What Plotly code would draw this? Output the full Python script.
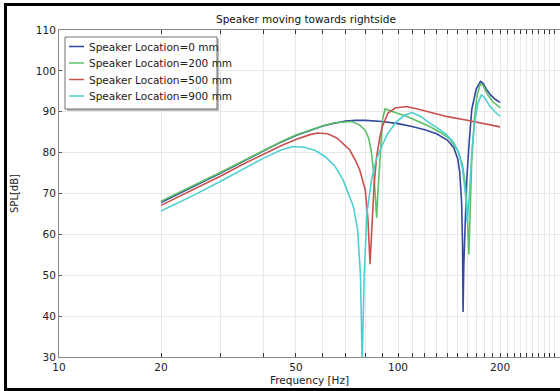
import plotly.graph_objects as go

# ---------------- data ----------------
names = ["Speaker Location=0 mm", "Speaker Location=200 mm",
         "Speaker Location=500 mm", "Speaker Location=900 mm"]
colors = ["#34479f", "#5cc068", "#c8504f", "#4dcfd0"]

f_0mm = [20, 25, 30, 35, 40, 45, 50, 55, 60, 65, 70, 75, 80, 90, 100, 110, 120, 130,
         140, 146, 150, 152, 154, 155, 155.6, 156.3, 157.5, 159.4, 162, 165, 170, 175,
         178, 182, 188, 194, 200]
spl_0mm = [67.8, 71.7, 75.0, 77.9, 80.4, 82.5, 84.2, 85.5, 86.5, 87.2, 87.7, 87.9, 87.9,
           87.6, 87.1, 86.4, 85.6, 84.6, 83.0, 81.2, 78.5, 75.5, 68, 58, 41, 52, 63, 73,
           82, 90.5, 95.5, 97.4, 97.0, 95.6, 94.0, 93.0, 92.3]

f_200mm = [20, 25, 30, 35, 40, 45, 50, 55, 60, 65, 70, 73, 77, 80, 82, 83.5, 85, 86,
           86.5, 87.2, 88.5, 90, 91.6, 95, 100, 106, 115, 124, 133, 142, 150, 155, 158,
           160, 161.8, 163, 165, 168, 171, 175, 178, 183, 190, 200]
spl_200mm = [68.1, 71.9, 75.2, 78.0, 80.5, 82.6, 84.3, 85.6, 86.6, 87.3, 87.6, 87.6,
             86.8, 85.5, 83.5, 80, 74, 68, 64.1, 70, 80, 88, 90.7, 90.3, 89.6, 88.9,
             87.6, 86.4, 85.0, 83.4, 80.5, 77, 72, 66, 55.1, 65, 78, 88, 94, 96.8, 96.5,
             94.5, 92.5, 91.0]

f_500mm = [20, 25, 30, 35, 40, 45, 50, 55, 58, 62, 66, 70, 72, 75, 77, 80, 81.5, 82.7,
           83.6, 85, 86.5, 88.5, 90, 93.5, 98, 106, 115, 125, 140, 160, 175, 190, 200]
spl_500mm = [67.1, 71.0, 74.3, 77.2, 79.6, 81.6, 83.2, 84.4, 84.8, 84.6, 83.6, 81.8,
             80.7, 78.0, 75.9, 71, 64, 52.7, 62, 72, 79, 84, 86.5, 89.7, 90.9, 91.3,
             90.6, 89.8, 88.8, 87.9, 87.3, 86.7, 86.3]

f_900mm = [20, 25, 30, 35, 40, 45, 49, 53, 57, 61, 65, 68.8, 71, 73.8, 76, 77.5, 78.4,
           79.5, 81, 83.6, 86, 88.6, 93, 99, 105, 110, 117, 124, 132, 139, 146, 151, 155,
           158, 160, 162, 165, 168, 172, 176, 180, 186, 193, 200]
spl_900mm = [65.7, 69.6, 73.0, 76.0, 78.6, 80.6, 81.5, 81.3, 80.5, 79.0, 76.8, 73.4,
             70.5, 66.9, 61.2, 50, 29, 50, 65.4, 73.4, 78, 80.7, 84.5, 87.6, 89.2, 89.8,
             88.8, 87.2, 85.8, 84.4, 82.5, 80, 76, 70, 63, 68, 80, 87, 92, 94.1, 93.5,
             91.5, 90, 88.9]

freqs = [f_0mm, f_200mm, f_500mm, f_900mm]
spls = [spl_0mm, spl_200mm, spl_500mm, spl_900mm]

x_tickvals = [10, 20, 30, 40, 50, 60, 70, 80, 90] + list(range(100, 300, 10))
x_labels = {10: "10", 20: "20", 50: "50", 100: "100", 200: "200"}
x_ticktext = [x_labels.get(v, "") for v in x_tickvals]
y_tickvals = [30, 40, 50, 60, 70, 80, 90, 100, 110]

title_text = "Speaker moving towards rightside"
x_title = "Frequency [Hz]"
y_title = "SPL[dB]"

# ---------------- layout geometry ----------------
W, H = 560, 391
L, R, T, B = 59, 560, 30, 357


def px(x):
    return (x - L) / (R - L)


def py(y):
    return (B - y) / (B - T)


FONT = "DejaVu Sans"

fig = go.Figure()
for n, c, fx, sy in zip(names, colors, freqs, spls):
    fig.add_trace(go.Scatter(x=fx, y=sy, mode="lines", name=n,
                             line=dict(color=c, width=1.6), showlegend=False))

shapes = []
annotations = []

# outer black frame (image is cropped on the right): one open path, top-left-bottom
fx0, fx1, fy0, fy1 = px(5.5), px(560), py(4.5), py(389.5)
frame_path = (f"M {fx1:.5f},{fy0:.5f} L {fx0:.5f},{fy0:.5f} "
              f"L {fx0:.5f},{fy1:.5f} L {fx1:.5f},{fy1:.5f}")
shapes.append(dict(type="path", xref="paper", yref="paper", path=frame_path,
                   line=dict(color="black", width=3), fillcolor="rgba(0,0,0,0)",
                   layer="above"))

# manual legend
lx0, lx1, ly0, ly1 = 65, 217, 37, 109
shapes.append(dict(type="rect", xref="paper", yref="paper",
                   x0=px(lx0 + 2), x1=px(lx1 + 2), y0=py(ly1 + 2), y1=py(ly0 + 2),
                   line=dict(width=0), fillcolor="rgba(120,120,120,0.5)", layer="above"))
shapes.append(dict(type="rect", xref="paper", yref="paper",
                   x0=px(lx0), x1=px(lx1), y0=py(ly1), y1=py(ly0),
                   line=dict(color="#707070", width=1), fillcolor="white", layer="above"))
rows = [46.5, 63, 79.5, 96]
for n, c, ry in zip(names, colors, rows):
    shapes.append(dict(type="line", xref="paper", yref="paper",
                       x0=px(69), x1=px(84), y0=py(ry), y1=py(ry),
                       line=dict(color=c, width=1.5), layer="above"))
    annotations.append(dict(xref="paper", yref="paper", x=px(87), y=py(ry),
                            xanchor="left", yanchor="middle", text=n, showarrow=False,
                            font=dict(family=FONT, size=10.5, color="#222")))

# title
annotations.append(dict(xref="paper", yref="paper", x=px(306), y=py(19),
                        xanchor="center", yanchor="middle", text=title_text,
                        showarrow=False, font=dict(family=FONT, size=10.5, color="#111")))

fig.update_layout(
    width=W, height=H,
    margin=dict(l=L, r=W - R, t=T, b=H - B),
    paper_bgcolor="white", plot_bgcolor="white",
    font=dict(family=FONT, size=10.5, color="#222"),
    shapes=shapes, annotations=annotations,
    showlegend=False,
)
fig.update_xaxes(
    type="log", range=[1, 1 + (R - L) / 339.0],
    tickvals=x_tickvals, ticktext=x_ticktext,
    ticks="inside", ticklen=4, tickcolor="#333",
    showline=True, linecolor="#888", linewidth=1, mirror="ticks",
    showgrid=True, gridcolor="#e8e8e8", gridwidth=1,
    zeroline=False,
    title=dict(text=x_title, standoff=5, font=dict(family=FONT, size=10.5)),
    tickfont=dict(family=FONT, size=10.5),
)
fig.update_yaxes(
    range=[30, 110], tickvals=y_tickvals,
    ticks="inside", ticklen=3, tickcolor="#555",
    showline=True, linecolor="#888", linewidth=1,
    showgrid=True, gridcolor="#e8e8e8", gridwidth=1,
    zeroline=False,
    title=dict(text=y_title, standoff=15, font=dict(family=FONT, size=10)),
    tickfont=dict(family=FONT, size=10.5),
)

fig.write_html("out.html")
